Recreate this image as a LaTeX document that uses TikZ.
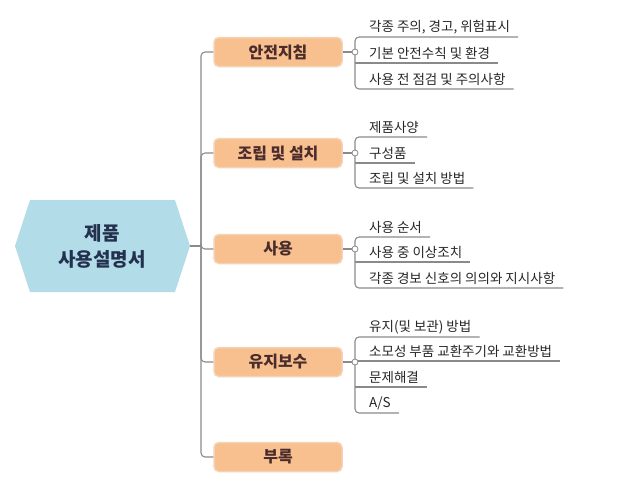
\documentclass[tikz,border=0pt]{standalone}
\usepackage{fontspec}
\setmainfont{Noto Sans CJK KR}
\usetikzlibrary{shapes.geometric}
\definecolor{ln}{HTML}{8A8A8A}
\definecolor{boxc}{HTML}{F9C08F}
\definecolor{boxd}{HTML}{F3D2B5}
\definecolor{boxt}{HTML}{4A2C2C}
\definecolor{rootc}{HTML}{B2DDE8}
\definecolor{roott}{HTML}{23304E}
\begin{document}
\begin{tikzpicture}[x=1pt,y=-1pt,
  br/.style={rectangle,rounded corners=5pt,fill=boxc,draw=boxd,line width=1.5pt,minimum width=128pt,minimum height=29pt,font=\fontsize{16}{18}\selectfont\bfseries,text=boxt},
  leaf/.style={anchor=south west,inner sep=0pt,font=\fontsize{13.5}{15}\selectfont,text=black!85},
  con/.style={draw=ln,line width=1.1pt,rounded corners=4pt},
  knob/.style={circle,draw=ln,fill=white,line width=0.8pt,inner sep=0pt,minimum size=6pt}]
\useasboundingbox (0,0) rectangle (627,490);
\node[regular polygon,regular polygon sides=6,shape border rotate=0,fill=rootc,minimum size=10pt,inner sep=0pt,
  minimum width=0pt] (root) at (102,246) {};
\fill[rootc] (15,246) -- (30,200) -- (175,200) -- (190,246) -- (175,292) -- (30,292) -- cycle;
\coordinate (rootE) at (190,246);
\node[align=center,font=\fontsize{19}{26}\selectfont\bfseries,text=roott] at (102,246) {제품\\사용설명서};
\node[br] (b1) at (278,52) {안전지침};
\node[br] (b2) at (278,153) {조립 및 설치};
\node[br] (b3) at (278,249) {사용};
\node[br] (b4) at (278,362) {유지보수};
\node[br] (b5) at (278,457) {부록};
\coordinate (t) at (201,246);
\draw[con] (rootE) -- (t);
\foreach \b in {b1,b2,b3,b4,b5}{\draw[con] (t) |- (\b.west);}
% leaves
\newcommand{\grp}[4]{% box, knob y, list of underline y/text pairs handled outside
}
\def\mkleaf#1#2#3{\node[leaf] (#1) at (369,#2-3) {#3};}
% group 1
\mkleaf{l11}{37}{각종 주의, 경고, 위험표시}
\mkleaf{l12}{63}{기본 안전수칙 및 환경}
\mkleaf{l13}{89}{사용 전 점검 및 주의사항}
\draw[con] ([xshift=8pt]l11.east|-0,37) -- (355,37) -- (355,89) -- ([xshift=8pt]l13.east|-0,89);
\draw[con] (355,63) -- ([xshift=8pt]l12.east|-0,63);
\draw[con] (b1.east) -- (355,52); \node[knob] at (355,52) {};
% group 2
\mkleaf{l21}{137}{제품사양}
\mkleaf{l22}{163}{구성품}
\mkleaf{l23}{188}{조립 및 설치 방법}
\draw[con] ([xshift=8pt]l21.east|-0,137) -- (355,137) -- (355,188) -- ([xshift=8pt]l23.east|-0,188);
\draw[con] (355,163) -- ([xshift=8pt]l22.east|-0,163);
\draw[con] (b2.east) -- (355,153); \node[knob] at (355,153) {};
% group 3
\mkleaf{l31}{237}{사용 순서}
\mkleaf{l32}{262}{사용 중 이상조치}
\mkleaf{l33}{288}{각종 경보 신호의 의의와 지시사항}
\draw[con] ([xshift=8pt]l31.east|-0,237) -- (355,237) -- (355,288) -- ([xshift=8pt]l33.east|-0,288);
\draw[con] (355,262) -- ([xshift=8pt]l32.east|-0,262);
\draw[con] (b3.east) -- (355,249); \node[knob] at (355,249) {};
% group 4
\mkleaf{l41}{337}{유지(및 보관) 방법}
\mkleaf{l42}{361}{소모성 부품 교환주기와 교환방법}
\mkleaf{l43}{387}{문제해결}
\mkleaf{l44}{413}{A/S}
\draw[con] ([xshift=8pt]l41.east|-0,337) -- (355,337) -- (355,413) -- ([xshift=8pt]l44.east|-0,413);
\draw[con] (355,361) -- ([xshift=8pt]l42.east|-0,361);
\draw[con] (355,387) -- ([xshift=8pt]l43.east|-0,387);
\draw[con] (b4.east) -- (355,362); \node[knob] at (355,362) {};
\end{tikzpicture}
\end{document}
